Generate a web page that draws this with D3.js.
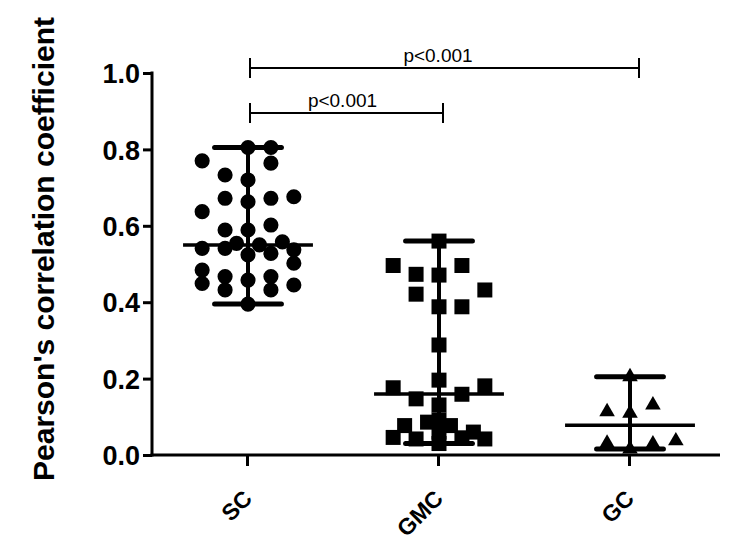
<!DOCTYPE html>
<html><head><meta charset="utf-8">
<script src="https://cdn.jsdelivr.net/npm/d3@7/dist/d3.min.js"></script>
<style>body{margin:0;background:#fff}svg{display:block}</style>
</head><body>
<svg id="chart" width="743" height="549"></svg>
<script>
// ---------- data ----------
const categories = ["SC", "GMC", "GC"];
const yTickValues = [0.0, 0.2, 0.4, 0.6, 0.8, 1.0];
const yTitle = "Pearson's correlation coefficient";

// values and their horizontal scatter slot (column index inside the group)
const scValues = [0.805, 0.805, 0.770, 0.764, 0.733, 0.720, 0.672, 0.663, 0.672, 0.676,
                  0.637, 0.589, 0.589, 0.602, 0.554, 0.558, 0.541, 0.541, 0.550, 0.537,
                  0.524, 0.528, 0.502, 0.484, 0.467, 0.458, 0.467, 0.449, 0.432, 0.432,
                  0.445, 0.395];
const scSlots  = [0, 1, -2, 1, -1, 0, -1, 0, 1, 2,
                  -2, -1, 0, 1, -0.5, 1.5, -2, -1, 0.5, 2,
                  0, 1, 2, -2, -1, 0, 1, -2, -1, 1,
                  2, 0];

const gmcValues = [0.560, 0.496, 0.496, 0.473, 0.471, 0.421, 0.432, 0.388, 0.388, 0.288,
                   0.196, 0.176, 0.181, 0.147, 0.159, 0.131,
                   0.077, 0.046, 0.086, 0.092, 0.077, 0.060, 0.042, 0.042, 0.045, 0.060, 0.030];
const gmcSlots  = [0, -2, 1, -1, 0, -1, 2, 0, 1, 0,
                   0, -2, 2, -1, 1, 0,
                   -1.5, -2, -0.5, 0, 0.5, 1.5, 2, -1, 1, 0, 0];

const gcValues = [0.205, 0.113, 0.131, 0.109, 0.031, 0.029, 0.037, 0.016];
const gcSlots  = [0, -1, 1, 0, -1, 1, 2, 0];

const medians = [0.55, 0.16, 0.078];

const compFrom   = ["SC", "SC"];
const compTo     = ["GC", "GMC"];
const compLevel  = [1.013, 0.895];
const compLabels = ["p<0.001", "p<0.001"];

// ---------- layout ----------
const W = 743, H = 549;
const axisLeft = 152, axisRight = 720, axisTop = 73, axisBottom = 455;

const svg = d3.select("#chart");
const x = d3.scalePoint().domain(categories).range([247, 629]);
const y = d3.scaleLinear().domain([0, 1]).range([axisBottom, axisTop]);
const step = x.step();
const slotW = 0.12 * step;

const groups = [
  {cat: "SC",  values: scValues,  slots: scSlots,  shape: d3.symbolCircle,   size: 180},
  {cat: "GMC", values: gmcValues, slots: gmcSlots, shape: d3.symbolSquare,   size: 225},
  {cat: "GC",  values: gcValues,  slots: gcSlots,  shape: d3.symbolTriangle, size: 105}
];

// points
groups.forEach((g, gi) => {
  const cx = x(g.cat) + 1;
  svg.append("g").selectAll("path")
    .data(g.values.map((v, i) => ({v, s: g.slots[i]})))
    .join("path")
    .attr("d", d3.symbol().type(g.shape).size(g.size))
    .attr("transform", d => `translate(${cx + d.s * slotW},${y(d.v)})`)
    .attr("fill", "#000");
});

// median + range
groups.forEach((g, gi) => {
  const cx = x(g.cat);
  const [mn, mx] = d3.extent(g.values);
  const gg = svg.append("g").attr("stroke", "#000").attr("stroke-linecap", "round");
  gg.append("line").attr("x1", cx + 1).attr("x2", cx + 1).attr("y1", y(mn)).attr("y2", y(mx)).attr("stroke-width", 4);
  gg.append("line").attr("x1", cx + 1 - 0.175 * step).attr("x2", cx + 1 + 0.175 * step)
    .attr("y1", y(mx)).attr("y2", y(mx)).attr("stroke-width", 5);
  gg.append("line").attr("x1", cx + 1 - 0.175 * step).attr("x2", cx + 1 + 0.175 * step)
    .attr("y1", y(mn)).attr("y2", y(mn)).attr("stroke-width", 5);
  gg.append("line").attr("x1", cx + 1 - 0.34 * step).attr("x2", cx + 1 + 0.34 * step)
    .attr("y1", y(medians[gi])).attr("y2", y(medians[gi])).attr("stroke-width", 3.5)
    .attr("stroke-linecap", "butt");
});

// y axis
const yAxis = svg.append("g").attr("transform", `translate(${axisLeft},0)`)
  .call(d3.axisLeft(y).tickValues(yTickValues).tickFormat(d3.format(".1f")).tickSize(9).tickPadding(3));
yAxis.select(".domain").remove();
yAxis.selectAll(".tick line").attr("stroke", "#000").attr("stroke-width", 3);
yAxis.selectAll(".tick text").attr("fill", "#000")
  .style("font-family", "'Liberation Sans', Arial, sans-serif")
  .style("font-weight", "bold").style("font-size", "27px").attr("dy", "0.36em");
svg.append("line").attr("x1", axisLeft).attr("x2", axisLeft)
  .attr("y1", axisTop - 1.5).attr("y2", axisBottom + 1.5)
  .attr("stroke", "#000").attr("stroke-width", 3);

// x axis
const xAxis = svg.append("g").attr("transform", `translate(0,${axisBottom})`)
  .call(d3.axisBottom(x).tickSize(11).tickPadding(0));
xAxis.select(".domain").remove();
xAxis.selectAll(".tick line").attr("stroke", "#000").attr("stroke-width", 3);
xAxis.selectAll(".tick text").attr("fill", "#000")
  .style("font-family", "'Liberation Sans', Arial, sans-serif")
  .style("font-weight", "bold").style("font-size", "23px")
  .attr("text-anchor", "end").attr("dy", 0).attr("y", 0)
  .attr("transform", "translate(6,45) rotate(-45)");
svg.append("line").attr("x1", axisLeft - 1.5).attr("x2", axisRight)
  .attr("y1", axisBottom).attr("y2", axisBottom)
  .attr("stroke", "#000").attr("stroke-width", 3);

// y title
svg.append("text").text(yTitle)
  .attr("transform", `translate(54,249) rotate(-90)`)
  .attr("text-anchor", "middle")
  .style("font-family", "'Liberation Sans', Arial, sans-serif")
  .style("font-weight", "bold").style("font-size", "30px").attr("fill", "#000");

// comparison brackets
const nudge = {SC: 3, GMC: 5, GC: 10};
compFrom.forEach((f, i) => {
  const x1 = x(f) + nudge[f], x2 = x(compTo[i]) + nudge[compTo[i]];
  const yy = y(compLevel[i]);
  const g = svg.append("g").attr("stroke", "#000").attr("stroke-width", 2);
  g.append("line").attr("x1", x1).attr("x2", x2).attr("y1", yy).attr("y2", yy);
  g.append("line").attr("x1", x1).attr("x2", x1).attr("y1", yy - 10).attr("y2", yy + 10);
  g.append("line").attr("x1", x2).attr("x2", x2).attr("y1", yy - 10).attr("y2", yy + 10);
  svg.append("text").text(compLabels[i])
    .attr("x", (x(f) + x(compTo[i])) / 2).attr("y", yy - 6)
    .attr("text-anchor", "middle")
    .style("font-family", "'Liberation Sans', Arial, sans-serif")
    .style("font-size", "19px").attr("fill", "#000");
});
</script>
</body></html>
